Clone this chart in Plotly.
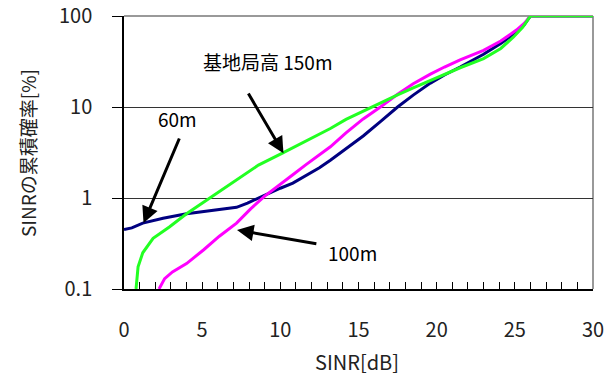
import plotly.graph_objects as go
import math

# 60m (navy)
x_60 = [0, 0.5, 1.2, 2.5, 4.0, 6.1, 7.2, 7.9, 9.0, 10.0, 10.8, 11.6, 12.5, 13.2, 14.2, 15.3, 16.4, 17.5, 18.5, 19.6, 20.5, 21.5, 23.0, 24.1, 25.1, 25.6, 26.0, 30]
y_60 = [0.45, 0.47, 0.53, 0.60, 0.67, 0.74, 0.79, 0.88, 1.08, 1.28, 1.46, 1.75, 2.15, 2.6, 3.5, 4.8, 6.9, 10, 13.5, 18.3, 22.5, 27.5, 38, 50, 66, 80, 100, 100]

# 100m (magenta)
x_100 = [2.24, 2.6, 3.1, 4.0, 5.1, 6.1, 7.2, 8.1, 9.0, 10.0, 10.8, 11.6, 12.5, 13.2, 14.2, 15.3, 16.4, 17.5, 18.5, 19.6, 20.5, 21.5, 23.0, 24.1, 25.1, 25.6, 26.0, 30]
y_100 = [0.1, 0.13, 0.154, 0.19, 0.27, 0.38, 0.53, 0.76, 1.05, 1.4, 1.8, 2.3, 2.95, 3.65, 5.2, 7.4, 10, 13.8, 18.0, 23.0, 27.5, 33, 42, 53, 70, 83, 100, 100]

# 150m (green)
x_150 = [0.77, 0.82, 0.9, 1.2, 1.86, 2.9, 4.0, 5.3, 7.2, 8.6, 10.1, 11.1, 12.1, 13.2, 14.2, 15.3, 16.4, 17.5, 18.5, 19.6, 20.5, 21.5, 23.0, 24.1, 24.9, 25.5, 26.0, 30]
y_150 = [0.1, 0.13, 0.175, 0.25, 0.36, 0.48, 0.67, 0.95, 1.58, 2.3, 3.1, 3.8, 4.6, 5.8, 7.3, 9.0, 11.0, 13.6, 16.2, 19.5, 22.5, 27, 34, 44, 58.5, 75, 100, 100]

x_major_ticks = [0, 5, 10, 15, 20, 25, 30]
y_ticks = [0.1, 1, 10, 100]
y_tick_text = ["0.1", "1", "10", "100"]

FONT = "Noto Sans CJK JP"
W, H = 615, 376
L_, R_, T_, B_ = 124, 593, 16, 289  # plot area in pixels


def px2paper(px, py):
    return (px - L_) / (R_ - L_), (B_ - py) / (B_ - T_)


fig = go.Figure()
fig.add_trace(go.Scatter(x=x_60, y=y_60, mode="lines", line=dict(color="#000080", width=3), name="60m", cliponaxis=False))
fig.add_trace(go.Scatter(x=x_100, y=y_100, mode="lines", line=dict(color="#FF00FF", width=3), name="100m", cliponaxis=False))
fig.add_trace(go.Scatter(x=x_150, y=y_150, mode="lines", line=dict(color="#22FF22", width=3), name="150m", cliponaxis=False))

fig.update_layout(
    width=W, height=H,
    margin=dict(l=L_, r=W - R_, t=T_, b=H - B_),
    paper_bgcolor="white", plot_bgcolor="white",
    showlegend=False,
    font=dict(family=FONT, color="#222"),
    xaxis=dict(
        range=[0, 30], tickvals=x_major_ticks, ticks="inside", ticklen=7, tickcolor="black",
        minor=dict(dtick=1, ticks="inside", ticklen=7, tickcolor="black"),
        showgrid=False, zeroline=False, showline=True, linecolor="black", linewidth=1.5,
        tickfont=dict(size=20, family=FONT, color="#222"), ticklabelstandoff=22,
        automargin=False,
    ),
    yaxis=dict(
        type="log", range=[-1, 2], tickvals=y_ticks, ticktext=y_tick_text,
        ticks="outside", ticklen=10, tickcolor="black",
        showgrid=True, gridcolor="#333", gridwidth=1.2,
        zeroline=False, showline=True, linecolor="black", linewidth=1.5,
        tickfont=dict(size=20, family=FONT, color="#222"), ticklabelstandoff=16,
        automargin=False,
    ),
)

# border lines top/right (gray)
fig.add_shape(type="line", xref="paper", yref="paper", x0=0, x1=1, y0=1, y1=1, line=dict(color="#999", width=2), layer="below")
fig.add_shape(type="line", xref="paper", yref="paper", x0=1, x1=1, y0=0, y1=1, line=dict(color="#999", width=2), layer="below")

L = math.log10
arrows = [
    # (tip x, tip y, tail x, tail y)
    (10.2, 3.1, 7.9, 14.6),
    (1.25, 0.53, 3.58, 4.68),
    (7.23, 0.445, 12.4, 0.312),
]
for tx, ty, sx, sy in arrows:
    fig.add_annotation(x=tx, y=L(ty), ax=sx, ay=L(sy), xref="x", yref="y", axref="x", ayref="y",
                       text="", showarrow=True, arrowhead=2, arrowsize=1.1, arrowwidth=3, arrowcolor="black")

labels = [
    ("基地局高 150m", 268, 62),
    ("60m", 177, 118),
    ("100m", 352, 252),
]
for t, px, py in labels:
    xp, yp = px2paper(px, py)
    fig.add_annotation(x=xp, y=yp, xref="paper", yref="paper", text=t, showarrow=False,
                       font=dict(size=19, family=FONT, color="black"), xanchor="center", yanchor="middle")

# axis titles
xp, yp = px2paper(357, 361)
fig.add_annotation(x=xp, y=yp, xref="paper", yref="paper", text="SINR[dB]", showarrow=False,
                   font=dict(size=20, family=FONT, color="#222"), xanchor="center", yanchor="middle")
xp, yp = px2paper(27, 153)
fig.add_annotation(x=xp, y=yp, xref="paper", yref="paper", text="SINRの累積確率[%]", showarrow=False,
                   textangle=-90, font=dict(size=19, family=FONT, color="#222"), xanchor="center", yanchor="middle")

fig.write_html("out.html", config={"displayModeBar": False},
               post_script="document.body.style.margin='0';document.body.style.overflow='hidden';")
